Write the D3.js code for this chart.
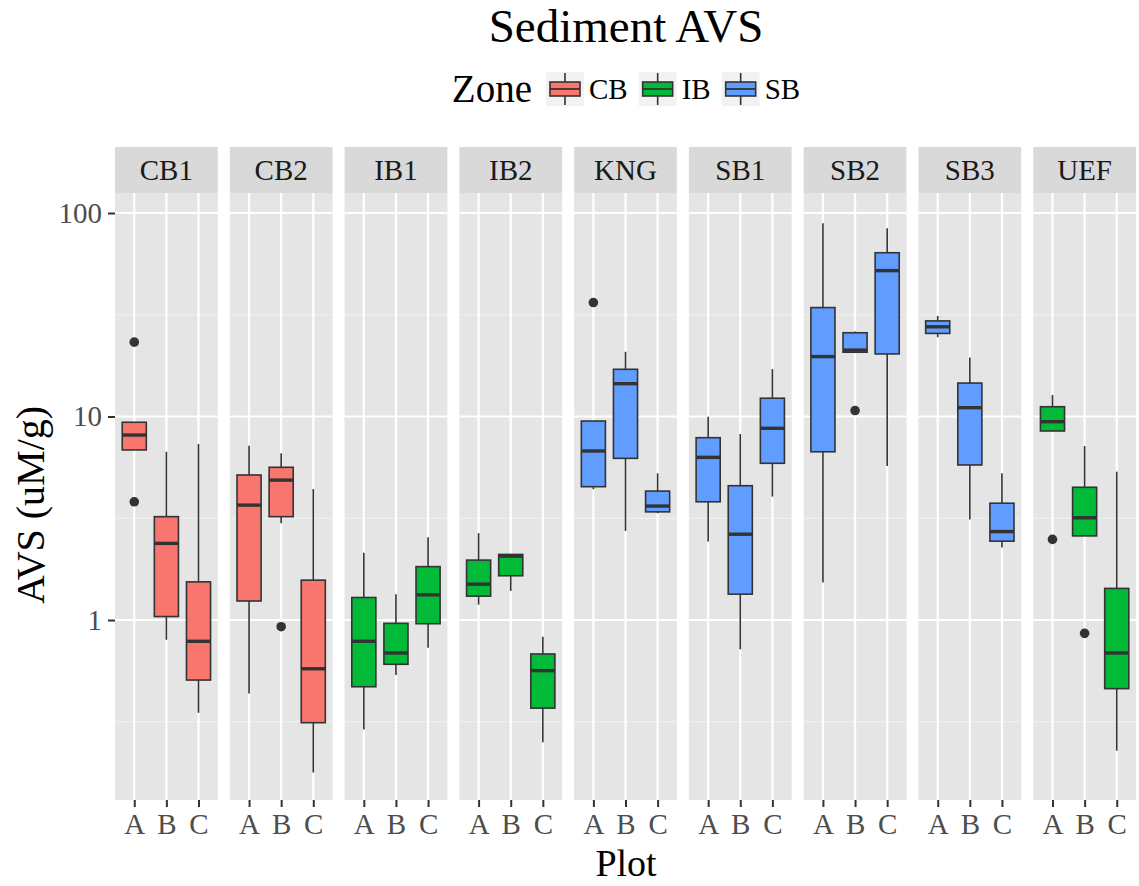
<!DOCTYPE html>
<html>
<head>
<meta charset="utf-8">
<script src="https://cdn.jsdelivr.net/npm/d3@7"></script>
<style>
    body { margin: 0; background: #ffffff; }
    text { font-family: "Liberation Serif", "Times New Roman", serif; }
</style>
</head>
<body>
<svg id="chart" width="1139" height="886"></svg>
<script>

// facets (sites) and the plot letters inside each facet
var facets = ["CB1", "CB2", "IB1", "IB2", "KNG", "SB1", "SB2", "SB3", "UEF"];
var plots = ["A", "B", "C"];
var facetZone = ["CB", "CB", "IB", "IB", "SB", "SB", "SB", "SB", "IB"];

var zones = ["CB", "IB", "SB"];
var zoneColors = ["#F8766D", "#00BA38", "#619CFF"];

// box stats, one row per facet, one value per plot (A, B, C)
var whiskerLow = [
    [6.85, 0.80, 0.350],
    [0.436, 2.99, 0.178],
    [0.290, 0.537, 0.731],
    [1.19, 1.39, 0.251],
    [4.39, 2.74, 3.35],
    [2.43, 0.718, 4.04],
    [1.53, 20.7, 5.71],
    [24.5, 3.12, 2.27],
    [8.49, 2.59, 0.228]
];
var q1 = [
    [6.85, 1.04, 0.507],
    [1.24, 3.22, 0.313],
    [0.470, 0.606, 0.959],
    [1.31, 1.65, 0.369],
    [4.52, 6.23, 3.40],
    [3.81, 1.34, 5.89],
    [6.71, 20.7, 20.3],
    [25.6, 5.78, 2.44],
    [8.49, 2.59, 0.460]
];
var median = [
    [8.11, 2.38, 0.786],
    [3.67, 4.87, 0.576],
    [0.786, 0.689, 1.33],
    [1.50, 2.06, 0.564],
    [6.77, 14.5, 3.63],
    [6.30, 2.64, 8.75],
    [19.7, 21.2, 52.1],
    [27.6, 11.05, 2.72],
    [9.43, 3.18, 0.689]
];
var q3 = [
    [9.37, 3.22, 1.54],
    [5.16, 5.63, 1.57],
    [1.29, 0.963, 1.83],
    [1.97, 2.10, 0.681],
    [9.50, 17.06, 4.30],
    [7.87, 4.57, 12.3],
    [34.3, 25.8, 63.8],
    [29.5, 14.6, 3.75],
    [11.17, 4.49, 1.43]
];
var whiskerHigh = [
    [9.37, 6.71, 7.33],
    [7.19, 6.60, 4.40],
    [2.14, 1.34, 2.55],
    [2.67, 2.10, 0.828],
    [9.50, 20.8, 5.26],
    [9.98, 8.20, 17.1],
    [89.0, 26.2, 84.1],
    [31.2, 19.5, 5.26],
    [12.76, 7.16, 5.36]
];
var outliers = [
    [[23.2, 3.81], [], []],
    [[], [0.927], []],
    [[], [], []],
    [[], [], []],
    [[36.3], [], []],
    [[], [], []],
    [[], [10.7], []],
    [[], [], []],
    [[2.49], [0.860], []]
];

var yMajor = [1, 10, 100];
var yMinor = [Math.sqrt(0.1), Math.sqrt(10), Math.sqrt(1000)];

var svg = d3.select("#chart");

// layout (pixels)
var panelLeft = 115, panelRight = 1136, panelGap = 12;
var stripTop = 147, panelTop = 193, panelBottom = 800;
var panelW = (panelRight - panelLeft - panelGap * (facets.length - 1)) / facets.length;

var y = d3.scaleLog()
    .domain([0.1305, 125.4])
    .range([panelBottom, panelTop]);

var facetX = d3.scaleBand()
    .domain(facets)
    .range([panelLeft, panelRight + panelGap])
    .paddingInner(0);

var zoneColor = d3.scaleOrdinal().domain(zones).range(zoneColors);

// title
svg.append("text")
    .attr("x", 626).attr("y", 42)
    .attr("text-anchor", "middle")
    .style("font-size", "47px")
    .style("fill", "#000")
    .text("Sediment AVS");

// ---------------- panels ----------------
facets.forEach(function (f, fi) {
    var x0 = facetX(f);
    var g = svg.append("g").attr("class", "panel");

    var x = d3.scalePoint()
        .domain(plots)
        .range([x0, x0 + panelW])
        .padding(0.6);
    var step = x.step();
    var boxW = step * 0.75;

    // strip
    g.append("rect")
        .attr("x", x0).attr("y", stripTop)
        .attr("width", panelW).attr("height", panelTop - stripTop)
        .style("fill", "#D9D9D9");
    g.append("text")
        .attr("x", x0 + panelW / 2).attr("y", (stripTop + panelTop) / 2 + 10)
        .attr("text-anchor", "middle")
        .style("font-size", "29px")
        .style("fill", "#1A1A1A")
        .text(f);

    // background
    g.append("rect")
        .attr("x", x0).attr("y", panelTop)
        .attr("width", panelW).attr("height", panelBottom - panelTop)
        .style("fill", "#E5E5E5");

    // grid
    g.selectAll("line.minor").data(yMinor).enter().append("line")
        .attr("x1", x0).attr("x2", x0 + panelW)
        .attr("y1", function (d) { return y(d); })
        .attr("y2", function (d) { return y(d); })
        .style("stroke", "#F2F2F2").style("stroke-width", 1.2);
    g.selectAll("line.major").data(yMajor).enter().append("line")
        .attr("x1", x0).attr("x2", x0 + panelW)
        .attr("y1", function (d) { return y(d); })
        .attr("y2", function (d) { return y(d); })
        .style("stroke", "#FFFFFF").style("stroke-width", 2.2);
    g.selectAll("line.vgrid").data(plots).enter().append("line")
        .attr("x1", function (d) { return x(d); })
        .attr("x2", function (d) { return x(d); })
        .attr("y1", panelTop).attr("y2", panelBottom)
        .style("stroke", "#FFFFFF").style("stroke-width", 2.2);

    // x axis per panel
    var xAxis = g.append("g")
        .attr("transform", "translate(0," + panelBottom + ")")
        .call(d3.axisBottom(x).tickSize(7).tickPadding(6));
    xAxis.select(".domain").remove();
    xAxis.selectAll(".tick line").style("stroke", "#333333").style("stroke-width", 2);
    xAxis.selectAll(".tick text")
        .style("font-size", "29px")
        .style("font-family", "Liberation Serif")
        .style("fill", "#4D4D4D");

    // boxes
    var fill = zoneColor(facetZone[fi]);
    plots.forEach(function (p, pi) {
        var cx = x(p);
        var bg = g.append("g").attr("class", "box");

        bg.append("line")
            .attr("x1", cx).attr("x2", cx)
            .attr("y1", y(whiskerHigh[fi][pi])).attr("y2", y(q3[fi][pi]))
            .style("stroke", "#333333").style("stroke-width", 1.6);
        bg.append("line")
            .attr("x1", cx).attr("x2", cx)
            .attr("y1", y(q1[fi][pi])).attr("y2", y(whiskerLow[fi][pi]))
            .style("stroke", "#333333").style("stroke-width", 1.6);

        bg.append("rect")
            .attr("x", cx - boxW / 2)
            .attr("y", y(q3[fi][pi]))
            .attr("width", boxW)
            .attr("height", y(q1[fi][pi]) - y(q3[fi][pi]))
            .style("fill", fill)
            .style("stroke", "#333333").style("stroke-width", 1.6);

        bg.append("line")
            .attr("x1", cx - boxW / 2).attr("x2", cx + boxW / 2)
            .attr("y1", y(median[fi][pi])).attr("y2", y(median[fi][pi]))
            .style("stroke", "#333333").style("stroke-width", 3.4);

        bg.selectAll("circle").data(outliers[fi][pi]).enter().append("circle")
            .attr("cx", cx)
            .attr("cy", function (d) { return y(d); })
            .attr("r", 4.8)
            .style("fill", "#333333");
    });
});

// ---------------- y axis ----------------
var yAxis = svg.append("g")
    .attr("transform", "translate(" + panelLeft + ",0)")
    .call(d3.axisLeft(y).tickValues(yMajor).tickFormat(d3.format("d")).tickSize(7).tickPadding(6));
yAxis.select(".domain").remove();
yAxis.selectAll(".tick line").style("stroke", "#333333").style("stroke-width", 2);
yAxis.selectAll(".tick text")
    .style("font-size", "29px")
    .style("font-family", "Liberation Serif")
    .style("fill", "#4D4D4D");

// axis titles
svg.append("text")
    .attr("transform", "translate(44,505) rotate(-90)")
    .attr("text-anchor", "middle")
    .style("font-size", "40px")
    .style("fill", "#000")
    .text("AVS (uM/g)");

svg.append("text")
    .attr("x", 626).attr("y", 876)
    .attr("text-anchor", "middle")
    .style("font-size", "38px")
    .style("fill", "#000")
    .text("Plot");

// ---------------- legend ----------------
var legend = svg.append("g").attr("class", "legend");
var legY = 89;
var cursor = 0;

var legTitle = legend.append("text")
    .attr("x", 0).attr("y", legY + 13)
    .style("font-size", "39px")
    .style("fill", "#000")
    .text("Zone");
cursor = legTitle.node().getComputedTextLength() + 14;

zones.forEach(function (z, i) {
    var kx = cursor, kw = 38, kh = 34;
    legend.append("rect")
        .attr("x", kx).attr("y", legY - kh / 2)
        .attr("width", kw).attr("height", kh)
        .style("fill", "#F2F2F2");
    legend.append("line")
        .attr("x1", kx + kw / 2).attr("x2", kx + kw / 2)
        .attr("y1", legY - kh / 2 + 1).attr("y2", legY + kh / 2 - 1)
        .style("stroke", "#333333").style("stroke-width", 1.6);
    legend.append("rect")
        .attr("x", kx + 4).attr("y", legY - 7)
        .attr("width", kw - 8).attr("height", 14)
        .style("fill", zoneColor(z))
        .style("stroke", "#333333").style("stroke-width", 1.6);
    legend.append("line")
        .attr("x1", kx + 4).attr("x2", kx + kw - 4)
        .attr("y1", legY).attr("y2", legY)
        .style("stroke", "#333333").style("stroke-width", 1.8);

    var lbl = legend.append("text")
        .attr("x", kx + kw + 5).attr("y", legY + 10)
        .style("font-size", "29px")
        .style("fill", "#000")
        .text(z);
    cursor = kx + kw + 5 + lbl.node().getComputedTextLength() + 11;
});

// center the legend over the panels
var legWidth = cursor - 11;
legend.attr("transform", "translate(" + (626 - legWidth / 2) + ",0)");

</script>
</body>
</html>
